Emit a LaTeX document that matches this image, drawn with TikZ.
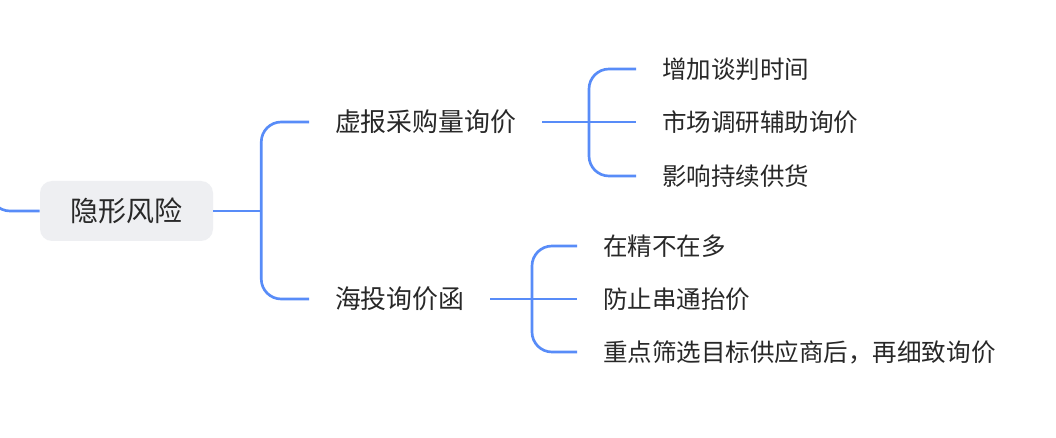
\documentclass[tikz,border=0pt]{standalone}
\usepackage{fontspec}
\setmainfont{Noto Sans CJK SC}
\usepackage{tikz}
\usetikzlibrary{calc}

\begin{document}
\begin{tikzpicture}[x=.75pt,y=.75pt,yscale=-1,
  link/.style={draw={rgb,255:red,88;green,140;blue,248},line width=2pt,rounded corners=15pt},
  topic/.style={fill={rgb,255:red,238;green,239;blue,242},draw=none,rounded corners=9pt,minimum width=129.75pt,minimum height=45pt,inner sep=0pt,text={rgb,255:red,40;green,40;blue,40},font=\fontsize{21}{25}\selectfont},
  branch/.style={anchor=west,inner xsep=19.5pt,inner ysep=0pt,outer sep=0pt,text={rgb,255:red,40;green,40;blue,40},font=\fontsize{19.4}{23}\selectfont},
  leaf/.style={anchor=west,inner xsep=19.5pt,inner ysep=0pt,outer sep=0pt,text={rgb,255:red,40;green,40;blue,40},font=\fontsize{18.4}{22}\selectfont}]
\path[use as bounding box,fill=white] (0,0) rectangle (1056,438);
% central topic and its main branches
\node[topic] (root) at (126.5,211) {隐形风险};
\node[branch] (b1) at (309,122) {虚报采购量询价};
\node[branch] (b2) at (309,299) {海投询价函};
% leaves
\node[leaf] (l11) at (636,69) {增加谈判时间};
\node[leaf] (l12) at (636,122) {市场调研辅助询价};
\node[leaf] (l13) at (636,176) {影响持续供货};
\node[leaf] (l21) at (577,246) {在精不在多};
\node[leaf] (l22) at (577,299) {防止串通抬价};
\node[leaf] (l23) at (577,352) {重点筛选目标供应商后，再细致询价};
% trunks
\coordinate (up) at (-10,140);
\coordinate (t0) at ($(root.east)+(48,0)$);
\coordinate (t1) at ($(l12.west)+(-47,0)$);
\coordinate (t2) at ($(l22.west)+(-45,0)$);
\draw[link] (up) |- (root.west);
\draw[link] (root.east) -- (t0);
\draw[link] (b1.west) -| (t0) |- (b2.west);
\draw[link] (b1.east) -- (l12.west);
\draw[link] (l11.west) -| (t1) |- (l13.west);
\draw[link] (b2.east) -- (l22.west);
\draw[link] (l21.west) -| (t2) |- (l23.west);
\end{tikzpicture}
\end{document}
